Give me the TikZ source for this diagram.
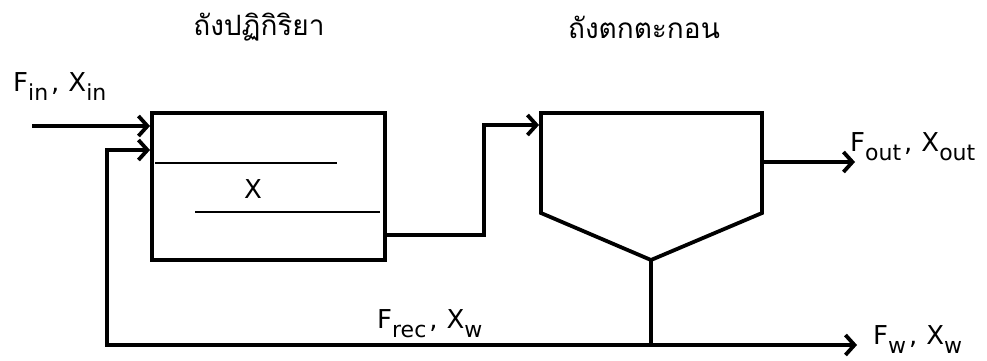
\documentclass[tikz,border=0pt]{standalone}
\usepackage{fontspec}
\setmainfont{DejaVu Sans}
\newfontfamily\thaifont[Script=Thai]{Loma}
\usetikzlibrary{arrows.meta}

% stream label: letter with a lowered index
\newcommand\strm[2]{#1\raisebox{-9pt}{\fontsize{22}{22}\selectfont #2}}
\newcommand\sep{\hspace{3pt},\hspace{9pt}}

\begin{document}
\begin{tikzpicture}[x=1pt,y=-1pt,
  pipe/.style={line width=3.8pt, line join=miter},
  flow/.style={pipe, -{Straight Barb[length=9pt,width=20pt,line width=3.8pt]}},
  level/.style={line width=1.4pt},
  lbl/.style={font=\fontsize{26}{26}\selectfont, inner sep=0pt},
  title/.style={font=\thaifont\fontsize{28}{28}\selectfont, inner sep=0pt}]
\useasboundingbox (0,0) rectangle (987,360);

% titles
\node[title] (t1) at (259,27) {ถังปฏิกิริยา};
\node[title] (t2) at (644,27) {ถังตกตะกอน};

% reactor tank
\node[draw, pipe, minimum width=233pt, minimum height=147pt, inner sep=0pt] (reactor) at (268.5,186.5) {};
\coordinate (l1a) at (155,163); \coordinate (l1b) at (337,163);
\coordinate (l2a) at (195,212); \coordinate (l2b) at (380,212);
\draw[level] (l1a) -- (l1b);
\draw[level] (l2a) -- (l2b);
\node[lbl] (xr) at (253,189) {X};

% settling tank
\coordinate (ctl) at (541,113); \coordinate (ctr) at (762,113);
\coordinate (cr) at (762,213); \coordinate (cone) at (651,260);
\coordinate (cl) at (541,213);
\draw[pipe] (ctl) -- (ctr) -- (cr) -- (cone) -- (cl) -- cycle;

% feed and recycle into reactor
\coordinate (feed) at (32,126);
\coordinate (feedin) at (150,126);
\draw[flow] (feed) -- (feedin);
\coordinate (uf) at (651,345);
\coordinate (rec) at (107,150);
\coordinate (recin) at (150,150);
\draw[flow] (uf) -| (rec) -- (recin);

% reactor outlet to settling tank
\coordinate (rout) at (385,235);
\coordinate (rise) at (484,235);
\coordinate (top) at (484,125);
\coordinate (clin) at (539,125);
\draw[flow] (rout) -- (rise) -- (top) -- (clin);

% settling tank outlets
\coordinate (ovf) at (762,162);
\coordinate (ovfout) at (855,162);
\draw[flow] (ovf) -- (ovfout);
\draw[pipe] (cone) -- (uf);
\coordinate (wout) at (857,345);
\draw[flow] (uf) -- (wout);

% stream labels
\node[lbl, anchor=base west] (fin) at (13,91) {\strm{F}{in}\sep\strm{X}{in}};
\node[lbl, anchor=base west] (fout) at (850,151) {\strm{F}{out}\sep\strm{X}{out}};
\node[lbl, anchor=base west] (frec) at (377,328) {\strm{F}{rec}\sep\strm{X}{w}};
\node[lbl, anchor=base west] (fw) at (873,344) {\strm{F}{w}\sep\strm{X}{w}};
\end{tikzpicture}
\end{document}
